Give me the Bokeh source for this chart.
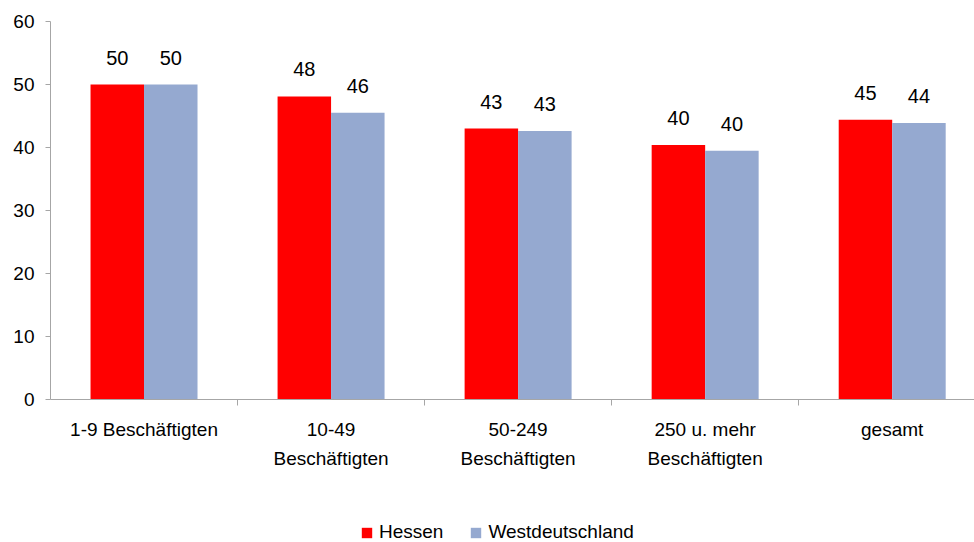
from bokeh.plotting import figure
from bokeh.models import ColumnDataSource, Range1d, FixedTicker, Legend, LegendItem
from bokeh.layouts import column
from bokeh.core.properties import value
from bokeh.embed import file_html
from bokeh.resources import INLINE

categories = ["1-9 Beschäftigten", "10-49\nBeschäftigten", "50-249\nBeschäftigten",
              "250 u. mehr\nBeschäftigten", "gesamt"]
series_names = ["Hessen", "Westdeutschland"]
hessen = [50.0, 48.1, 43.0, 40.4, 44.4]
west = [50.0, 45.5, 42.6, 39.5, 43.9]
hessen_labels = ["50", "48", "43", "40", "45"]
west_labels = ["50", "46", "43", "40", "44"]
y_ticks = [0, 10, 20, 30, 40, 50, 60]

FONT = "Liberation Sans"
RED = "#FF0000"
BLUE = "#95A9D0"
bw = 0.286

n = len(categories)
centers = [i + 0.5 for i in range(n)]
src_h = ColumnDataSource(dict(x=[c - bw / 2 for c in centers], top=hessen, lab=hessen_labels))
src_w = ColumnDataSource(dict(x=[c + bw / 2 for c in centers], top=west, lab=west_labels))

p = figure(width=974, height=490, output_backend="svg", toolbar_location=None,
           x_range=Range1d(0, 4.94), y_range=Range1d(0, 60),
           min_border_left=50, min_border_right=0, min_border_top=21, min_border_bottom=91)
p.outline_line_color = None
p.grid.grid_line_color = None
p.background_fill_color = "white"
p.border_fill_color = "white"

p.vbar(x="x", top="top", width=bw, source=src_h, fill_color=RED, line_color=None)
p.vbar(x="x", top="top", width=bw, source=src_w, fill_color=BLUE, line_color=None)

for s in (src_h, src_w):
    p.text(x="x", y="top", text="lab", source=s, text_align="center", text_baseline="middle",
           y_offset=-27, text_font=value(FONT), text_font_size="20px", text_color="black")

# y axis
p.yaxis.ticker = FixedTicker(ticks=y_ticks)
p.yaxis.axis_line_color = "#A6A6A6"
p.yaxis.major_tick_line_color = "#A6A6A6"
p.yaxis.major_tick_out = 5
p.yaxis.major_tick_in = 0
p.yaxis.minor_tick_line_color = None
p.yaxis.major_label_text_font = FONT
p.yaxis.major_label_text_font_size = "19px"
p.yaxis.major_label_text_color = "black"
p.yaxis.major_label_standoff = 11

# x axis
p.xaxis.ticker = FixedTicker(ticks=centers, minor_ticks=list(range(1, n)))
p.xaxis.major_label_overrides = {c: lab for c, lab in zip(centers, categories)}
p.xaxis.axis_line_color = "#A6A6A6"
p.xaxis.major_tick_line_color = None
p.xaxis.minor_tick_line_color = "#A6A6A6"
p.xaxis.minor_tick_out = 6
p.xaxis.minor_tick_in = 0
p.xaxis.major_label_text_font = FONT
p.xaxis.major_label_text_font_size = "19px"
p.xaxis.major_label_text_color = "black"
p.xaxis.major_label_text_line_height = 1.4
p.xaxis.major_label_standoff = 13

# legend strip (separate small figure below the chart)
p2 = figure(width=974, height=52, output_backend="svg", toolbar_location=None,
            x_range=Range1d(0, 1), y_range=Range1d(0, 1),
            x_axis_type=None, y_axis_type=None,
            min_border=0, min_border_left=0, min_border_right=0,
            min_border_top=0, min_border_bottom=0)
p2.grid.visible = False
p2.outline_line_color = None
p2.background_fill_color = "white"
p2.border_fill_color = "white"
d1 = p2.vbar(x="x", top="top", width=bw, source=src_h, fill_color=RED, line_color=None,
             visible=False)
d2 = p2.vbar(x="x", top="top", width=bw, source=src_w, fill_color=BLUE, line_color=None,
             visible=False)

legend = Legend(items=[LegendItem(label=series_names[0], renderers=[d1]),
                       LegendItem(label=series_names[1], renderers=[d2])],
                orientation="horizontal", location=(310, -1),
                label_text_font=FONT, label_text_font_size="19px", label_text_color="black",
                glyph_width=13, glyph_height=13, spacing=26, label_standoff=6,
                label_height=13, inactive_fill_alpha=0,
                border_line_color=None, background_fill_alpha=0,
                margin=0, padding=0)
p2.add_layout(legend)

open("out.html", "w").write(file_html(column(p, p2, spacing=0), INLINE))
